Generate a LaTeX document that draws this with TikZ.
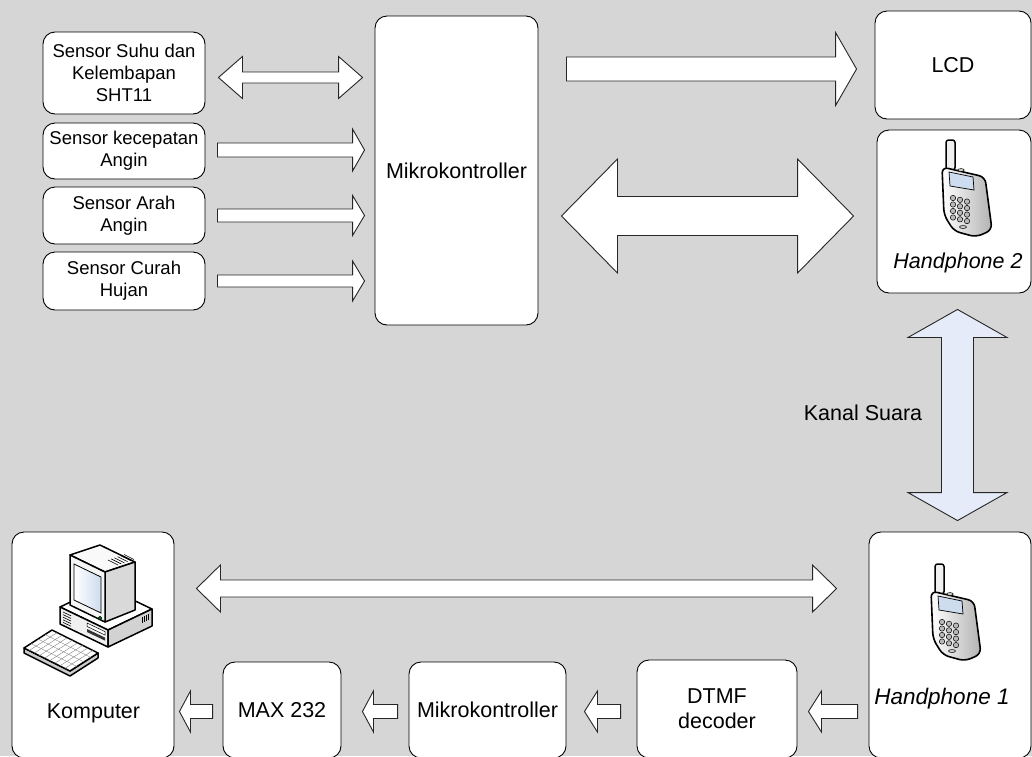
\documentclass[tikz,border=0pt]{standalone}
\usepackage{fontspec}
\setmainfont{Liberation Sans}
\usetikzlibrary{calc}

\definecolor{bggray}{RGB}{214,214,214}
\definecolor{chanblue}{RGB}{229,235,248}
\definecolor{screenblue}{RGB}{205,220,238}

% Block arrows. Arguments: [extra style] {tail or first tip} {tip} {shaft half width} {head half width} {head length}
\newcommand{\arrR}[6][]{%
  \path[blk,#1] let \p1=#2, \p2=#3 in
    (\x1,{\y1+#4pt}) -- ({\x2-#6pt},{\y1+#4pt}) -- ({\x2-#6pt},{\y1+#5pt}) -- (\x2,\y1)
    -- ({\x2-#6pt},{\y1-#5pt}) -- ({\x2-#6pt},{\y1-#4pt}) -- (\x1,{\y1-#4pt}) -- cycle;}
\newcommand{\arrL}[6][]{%
  \path[blk,#1] let \p1=#2, \p2=#3 in
    (\x1,{\y1+#4pt}) -- ({\x2+#6pt},{\y1+#4pt}) -- ({\x2+#6pt},{\y1+#5pt}) -- (\x2,\y1)
    -- ({\x2+#6pt},{\y1-#5pt}) -- ({\x2+#6pt},{\y1-#4pt}) -- (\x1,{\y1-#4pt}) -- cycle;}
\newcommand{\arrLR}[6][]{%
  \path[blk,#1] let \p1=#2, \p2=#3 in
    (\x1,\y1) -- ({\x1+#6pt},{\y1+#5pt}) -- ({\x1+#6pt},{\y1+#4pt}) -- ({\x2-#6pt},{\y1+#4pt})
    -- ({\x2-#6pt},{\y1+#5pt}) -- (\x2,\y1) -- ({\x2-#6pt},{\y1-#5pt}) -- ({\x2-#6pt},{\y1-#4pt})
    -- ({\x1+#6pt},{\y1-#4pt}) -- ({\x1+#6pt},{\y1-#5pt}) -- cycle;}
\newcommand{\arrUD}[6][]{%
  \path[blk,#1] let \p1=#2, \p2=#3 in
    (\x1,\y1) -- ({\x1+#5pt},{\y1-#6pt}) -- ({\x1+#4pt},{\y1-#6pt}) -- ({\x1+#4pt},{\y2+#6pt})
    -- ({\x1+#5pt},{\y2+#6pt}) -- (\x1,\y2) -- ({\x1-#5pt},{\y2+#6pt}) -- ({\x1-#4pt},{\y2+#6pt})
    -- ({\x1-#4pt},{\y1-#6pt}) -- ({\x1-#5pt},{\y1-#6pt}) -- cycle;}

\tikzset{
  box/.style={draw=black, line width=0.9pt, fill=white, rounded corners=12pt,
    inner sep=0pt, align=center, font=\fontsize{21.5}{25}\selectfont},
  sbox/.style={box, minimum width=162pt, font=\fontsize{18.5}{22}\selectfont},
  blk/.style={draw=black!85, line width=0.9pt, fill=white, line join=miter},
  lbl/.style={inner sep=0pt, font=\fontsize{21.5}{25}\selectfont},
  icon/.style={draw=black, line width=1.5pt, line join=round},
  thin/.style={draw=black, line width=0.5pt},
  phone/.pic={
    \path[icon, fill=gray!12, rounded corners=2.5pt] (-20,-50) rectangle (-11,-20);
    \path[icon, line width=1.6pt, rounded corners=6pt, left color=white, right color=gray!60]
      (-24,-23) -- (19,-13) -- (26,40) -- (10,47) -- (-12,41) -- (-22,25) -- cycle;
    \path[thin, line width=0.7pt, fill=screenblue] (-17,-18) -- (7,-13) -- (8,0) -- (-16,-4) -- cycle;
    \path[thin, fill=gray!40] (-5,-20) ellipse [x radius=3.2, y radius=1.4];
    \foreach \c in {0,1,2}{\foreach \r in {0,1,2,3}{
      \path[thin, fill=gray!55] ({-13+7*\c},{8+6.5*\r+1.8*\c}) circle [radius=2.7];}}
    \path[thin, fill=gray!40] (-3,37) ellipse [x radius=3.5, y radius=1.5];
  },
  computer/.pic={
    % system unit
    \path[icon, fill=white] (-33,-38) -- (11,-59) -- (59,-36) -- (15,-15) -- cycle;
    \path[icon, fill=gray!12] (-33,-38) -- (15,-15) -- (15,2) -- (-33,-21) -- cycle;
    \path[icon, fill=gray!35] (15,-15) -- (59,-36) -- (59,-19) -- (15,2) -- cycle;
    \foreach \k in {0,...,4}{\draw[line width=0.6pt] (-30,{-33+2.6*\k}) -- (-22,{-29.2+2.6*\k});}
    \path[thin, fill=white] (-6,-22) -- (12,-13.4) -- (12,-10) -- (-6,-18.6) -- cycle;
    \path[fill=black!80] (-6,-16) -- (12,-7.4) -- (12,-4.4) -- (-6,-13) -- cycle;
    \foreach \k in {0,...,3}{\draw[line width=0.6pt] ({49+2*\k},{-28-0.95*\k}) -- ({49+2*\k},{-22-0.95*\k});}
    % monitor
    \path[icon, fill=gray!5] (-23,-90) -- (7,-100) -- (42,-83) -- (12,-73) -- cycle;
    \path[icon, fill=gray!30] (12,-73) -- (42,-83) -- (42,-35) -- (12,-23) -- cycle;
    \path[icon, fill=gray!8] (-23,-90) -- (12,-73) -- (12,-23) -- (-23,-40) -- cycle;
    \path[thin, line width=0.8pt, left color=white, right color=screenblue]
      (-19,-81) -- (8,-68) -- (8,-32) -- (-19,-45) -- cycle;
    \path[thin, fill=green!55!black] (7,-27) circle [radius=1.8];
    \foreach \k in {0,...,5}{\draw[line width=0.6pt] ({15+3.2*\k},{-85-1.1*\k}) -- ({25+3.2*\k},{-80-1.1*\k});}
    % keyboard
    \path[icon, fill=gray!40] (-69,3) -- (-23,26) -- (5,8) -- (5,13) -- (-23,31) -- (-69,8) -- cycle;
    \path[icon, fill=white] (-69,3) -- (-41,-15) -- (5,8) -- (-23,26) -- cycle;
    \foreach \i in {1,2,3}{\draw[line width=0.4pt, gray] ($(-69,3)!\i/4!(-41,-15)$) -- +(46,23);}
    \foreach \j in {1,...,8}{\draw[line width=0.4pt, gray] ($(-69,3)!\j/9!(-23,26)$) -- +(28,-18);}
  }
}

\begin{document}
\begin{tikzpicture}[x=1pt, y=-1pt]
\useasboundingbox (0,0) rectangle (1032,756);
\fill[bggray] (0,0) rectangle (1032,756);
\clip (0,0) rectangle (1032,756);

% sensor column
\node[sbox, minimum height=82pt] (sht)  at (124,73)    {Sensor Suhu dan\\Kelembapan\\SHT11};
\node[sbox, minimum height=56pt] (wind) at (124,151)   {Sensor kecepatan\\Angin};
\node[sbox, minimum height=57pt] (dir)  at (124,215.5) {Sensor Arah\\Angin};
\node[sbox, minimum height=58pt] (rain) at (124,281)   {Sensor Curah\\Hujan};

% station controller and its outputs
\node[box, minimum width=163pt, minimum height=309pt] (mcu) at (456.5,170.5) {Mikrokontroller};
\node[box, minimum width=156pt, minimum height=108pt] (lcd) at (953,65) {LCD};
\node[box, minimum width=154pt, minimum height=163pt] (hp2) at (954,211.5) {};
\pic at ($(hp2)+(12,-21.5)$) {phone};
\node[lbl, font=\fontsize{21.5}{25}\selectfont\itshape] (hp2lbl) at (958,263) {Handphone 2};

% receiving side
\node[box, minimum width=162pt, minimum height=226pt] (hp1) at (950,645) {};
\pic at ($(hp1)+(5,-31)$) {phone};
\node[lbl, font=\fontsize{22.5}{25}\selectfont\itshape] (hp1lbl) at (942,698.5) {Handphone 1};

\node[box, minimum width=162pt, minimum height=226pt] (pc) at (93,645) {};
\pic at (pc.center) {computer};
\node[lbl] (pclbl) at (93.5,713) {Komputer};

\node[box, minimum width=118pt, minimum height=96pt] (maxchip) at (282,710) {MAX 232};
\node[box, minimum width=157pt, minimum height=96pt] (mcub) at (487.5,710) {Mikrokontroller};
\node[box, minimum width=160pt, minimum height=98pt] (dtmf) at (717,709) {DTMF\\decoder};

\node[lbl] (chan) at (863,413) {Kanal Suara};

% data paths
\arrLR{($(sht.east)+(13,4.5)$)}{($(mcu.west)+(-12,0)$)}{5.5}{21}{24}
\arrR{($(wind.east)+(12,-1)$)}{($(mcu.west)+(-10,0)$)}{7}{21}{12}
\arrR{($(dir.east)+(12,0)$)}{($(mcu.west)+(-10,0)$)}{6.5}{20}{12}
\arrR{($(rain.east)+(12,0)$)}{($(mcu.west)+(-10,0)$)}{6}{20}{12}
\arrR{($(mcu.east)+(28,-101.5)$)}{($(lcd.west)+(-18,0)$)}{12}{36.5}{21}
\arrLR{($(mcu.east)+(23,45.5)$)}{($(hp2.west)+(-23,0)$)}{19.5}{57}{56}
\arrUD[fill=chanblue]{($(hp2.south)+(3.5,16)$)}{($(hp1.north)+(0,-11)$)}{16}{49.5}{28}
\arrLR{($(pc.east)+(22,-56.5)$)}{($(hp1.west)+(-32,0)$)}{8.5}{23.5}{24}
\arrL{($(maxchip.west)+(-10,1.5)$)}{($(pc.east)+(5,0)$)}{7}{20.5}{11}
\arrL{($(mcub.west)+(-11,1.5)$)}{($(maxchip.east)+(21,0)$)}{7}{20.5}{11}
\arrL{($(dtmf.west)+(-16,2.5)$)}{($(mcub.east)+(18,0)$)}{7}{20.5}{13}
\arrL{($(hp1.west)+(-11,66.5)$)}{($(dtmf.east)+(11,0)$)}{7}{20.5}{13}
\end{tikzpicture}
\end{document}
